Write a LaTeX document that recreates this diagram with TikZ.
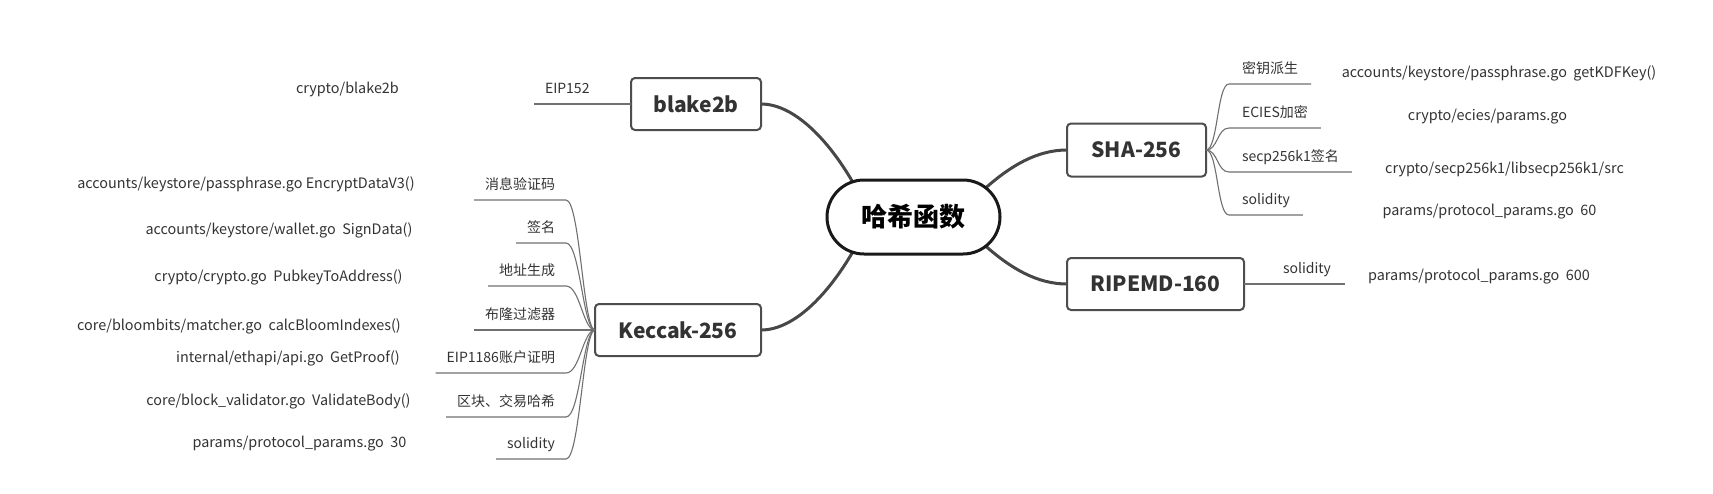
\documentclass[tikz,border=0pt]{standalone}
\usepackage{fontspec}
\setmainfont{Noto Sans CJK SC}
\usetikzlibrary{shapes.misc}
\pgfdeclarelayer{bg}
\pgfsetlayers{bg,main}
\definecolor{txt}{HTML}{333333}
\definecolor{boxline}{HTML}{4D4D4D}
\definecolor{mainline}{HTML}{474747}
\definecolor{subline}{HTML}{707070}
\begin{document}
\begin{tikzpicture}[x=1pt,y=-1pt,
  every node/.style={inner sep=0pt, outer sep=0pt},
  root/.style={rounded rectangle, draw=black!90, line width=3pt, fill=white, minimum width=173pt, minimum height=74pt, font=\fontsize{26}{30}\selectfont\bfseries, text=black},
  topic/.style={rectangle, rounded corners=4pt, draw=boxline, line width=2pt, fill=white, minimum height=52pt, font=\fontsize{21}{25}\selectfont\bfseries, text=txt},
  lbl/.style={font=\fontsize{14}{17}\selectfont, text=txt, text height=11pt, text depth=3pt, inner xsep=11pt, inner ysep=8pt},
  lblr/.style={lbl, inner xsep=13pt},
  leaf/.style={font=\fontsize{14.4}{17}\selectfont, text=txt},
  trunk/.style={draw=mainline, line width=3pt},
  twig/.style={draw=subline, line width=1.1pt},
]
\useasboundingbox (0,0) rectangle (1713,493);

% central and main topics
\node[root] (cen) at (913.5,217) {哈希函数};
\node[topic, minimum width=130pt] (bl) at (696,104) {blake2b};
\node[topic, minimum width=166pt] (kc) at (678,330) {Keccak-256};
\node[topic, minimum width=139pt, minimum height=53pt] (sha) at (1136.5,150) {SHA-256};
\node[topic, minimum width=177pt] (rp) at (1155.5,284) {RIPEMD-160};

% trunks
\begin{pgfonlayer}{bg}
\draw[trunk] (cen.150) .. controls +(-22,-38) and +(35,0) .. (bl.east);
\draw[trunk] (cen.210) .. controls +(-22,38) and +(35,0) .. (kc.east);
\draw[trunk] (cen.22) .. controls +(25,-22) and +(-30,0) .. (sha.west);
\draw[trunk] (cen.338) .. controls +(25,22) and +(-30,0) .. (rp.west);
\end{pgfonlayer}

% blake2b
\node[lbl, anchor=south west] (e1) at (534,104) {EIP152};
\draw[twig] (e1.south west) -- (e1.south east) -- (bl.west);
\node[leaf] (b1) at (347.5,89) {crypto/blake2b};

% Keccak-256 labels
\node[lbl, anchor=south east] (k1) at (566,200) {消息验证码};
\node[lbl, anchor=south east] (k2) at (566,243) {签名};
\node[lbl, anchor=south east] (k3) at (566,286) {地址生成};
\node[lbl, anchor=south east] (k4) at (566,330) {布隆过滤器};
\node[lbl, anchor=south east] (k5) at (566,373) {EIP1186账户证明};
\node[lbl, anchor=south east] (k6) at (566,417) {区块、交易哈希};
\node[lbl, anchor=south east] (k7) at (566,459) {solidity};
\foreach \n in {k1,k2,k3,k5,k6,k7}{
  \draw[twig] (\n.south west) -- (\n.south east) .. controls +(14,0) and +(-12,0) .. (kc.west);
}
\draw[twig] (k4.south west) -- (kc.west);

% Keccak leaves
\node[leaf] (l1) at (246,184) {accounts/keystore/passphrase.go EncryptDataV3()};
\node[leaf] (l2) at (279,230) {accounts/keystore/wallet.go~~SignData()};
\node[leaf] (l3) at (278.5,277) {crypto/crypto.go~~PubkeyToAddress()};
\node[leaf] (l4) at (239,326) {core/bloombits/matcher.go~~calcBloomIndexes()};
\node[leaf] (l5) at (288,358) {internal/ethapi/api.go~~GetProof()};
\node[leaf] (l6) at (278.5,401) {core/block\_validator.go~~ValidateBody()};
\node[leaf] (l7) at (299.5,444) {params/protocol\_params.go~~30};

% SHA-256 labels
\node[lblr, anchor=south west] (s1) at (1229,84) {密钥派生};
\node[lblr, anchor=south west] (s2) at (1229,128) {ECIES加密};
\node[lblr, anchor=south west] (s3) at (1229,172) {secp256k1签名};
\node[lblr, anchor=south west] (s4) at (1229,215) {solidity};
\foreach \n in {s1,s2,s3,s4}{
  \draw[twig] (sha.east) .. controls +(12,0) and +(-12,0) .. (\n.south west) -- (\n.south east);
}
\node[leaf] (r1) at (1499,73) {accounts/keystore/passphrase.go~~getKDFKey()};
\node[leaf] (r2) at (1487.5,117) {crypto/ecies/params.go};
\node[leaf] (r3) at (1504.5,169) {crypto/secp256k1/libsecp256k1/src};
\node[leaf] (r4) at (1489.5,212) {params/protocol\_params.go~~60};

% RIPEMD-160
\node[lblr, inner xsep=14pt, anchor=south west] (rs) at (1269,284) {solidity};
\draw[twig] (rp.east) -- (rs.south west) -- (rs.south east);
\node[leaf] (r5) at (1479,277) {params/protocol\_params.go~~600};
\end{tikzpicture}
\end{document}
